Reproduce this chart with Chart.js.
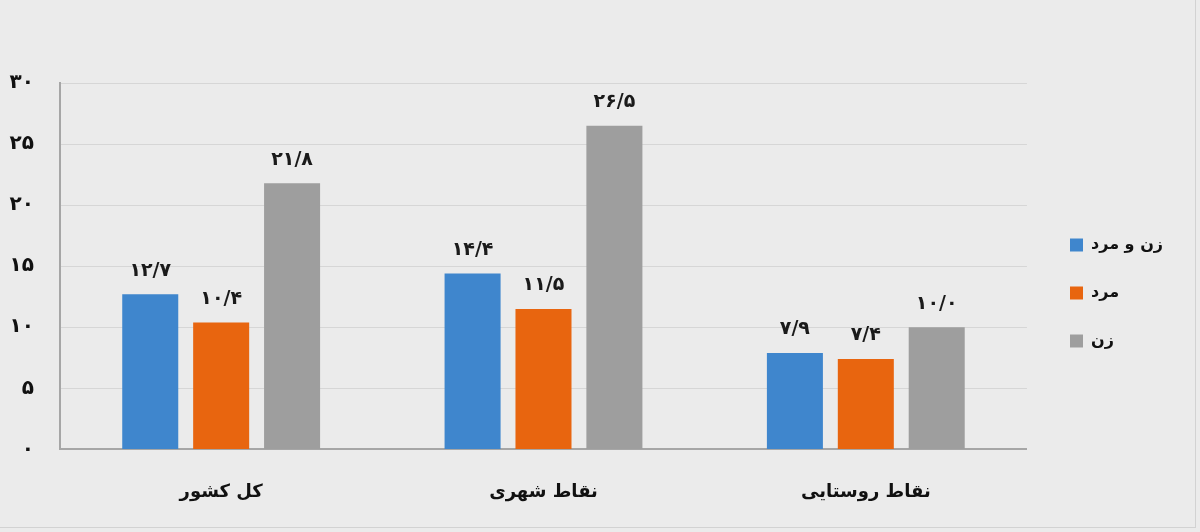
<!DOCTYPE html>
<html lang="fa">
<head>
<meta charset="utf-8">
<script src="https://cdn.jsdelivr.net/npm/chart.js@4/dist/chart.umd.min.js"></script>
<style>
  html, body { margin: 0; padding: 0; background: #ebebeb; }
  .wrap { position: relative; width: 1200px; height: 532px; }
  .wrap::after {
    content: ''; position: absolute; left: 0; top: 0; right: 4px; bottom: 4px;
    border-right: 1px solid #d2d2d2; border-bottom: 1px solid #d2d2d2; pointer-events: none;
  }
</style>
</head>
<body>
<div class="wrap"><canvas id="chart" width="1200" height="532"></canvas></div>
<script>
const categories = ['کل کشور', 'نقاط شهری', 'نقاط روستایی'];
const seriesNames = ['زن و مرد', 'مرد', 'زن'];
const both = [12.7, 14.4, 7.9];
const men = [10.4, 11.5, 7.4];
const women = [21.8, 26.5, 10.0];
const colors = ['#3f86cd', '#e8650f', '#9e9e9e'];

const FONT = '"DejaVu Sans", sans-serif';
const faDigits = '۰۱۲۳۴۵۶۷۸۹';
const toFa = s => String(s).replace(/[0-9]/g, d => faDigits[d]);

const valueLabels = {
  id: 'valueLabels',
  afterDatasetsDraw(chart) {
    const ctx = chart.ctx;
    ctx.save();
    ctx.font = 'bold 19px ' + FONT;
    ctx.fillStyle = '#1a1a1a';
    ctx.textAlign = 'center';
    ctx.textBaseline = 'bottom';
    chart.data.datasets.forEach((ds, i) => {
      chart.getDatasetMeta(i).data.forEach((bar, j) => {
        const txt = toFa(ds.data[j].toFixed(1).replace('.', '/'));
        ctx.fillText(txt, bar.x, bar.y - 14);
      });
    });
    ctx.restore();
  }
};

// nudge the legend block a bit right and up
const legendNudge = {
  id: 'legendNudge',
  afterLayout(chart) {
    const lg = chart.legend;
    if (!lg) return;
    lg.left += 11;
    lg.bottom -= 32;
  }
};

new Chart(document.getElementById('chart'), {
  type: 'bar',
  data: {
    labels: categories,
    datasets: [
      { label: seriesNames[0], data: both, backgroundColor: colors[0] },
      { label: seriesNames[1], data: men, backgroundColor: colors[1] },
      { label: seriesNames[2], data: women, backgroundColor: colors[2] },
    ],
  },
  options: {
    responsive: false,
    animation: false,
    layout: { padding: { top: 83, left: 8, right: 38, bottom: -3 } },
    datasets: { bar: { categoryPercentage: 0.66, barPercentage: 0.79 } },
    plugins: {
      legend: {
        position: 'right',
        labels: {
          boxWidth: 13, boxHeight: 13, padding: 32,
          color: '#111', font: { family: FONT, size: 16, weight: 'bold' },
        },
      },
      tooltip: { enabled: false },
    },
    scales: {
      x: {
        grid: { display: false, drawTicks: false },
        border: { color: '#a6a6a6', width: 2 },
        ticks: { padding: 32, color: '#111', font: { family: FONT, size: 18, weight: 'bold' } },
      },
      y: {
        min: 0, max: 30,
        afterFit: scale => { scale.width = 52; },
        ticks: {
          stepSize: 5, padding: 26, color: '#111',
          font: { family: FONT, size: 20, weight: 'bold' },
          callback: v => toFa(v),
        },
        grid: { color: '#d6d6d6', drawTicks: false },
        border: { color: '#a6a6a6', width: 2 },
      },
    },
  },
  plugins: [valueLabels, legendNudge],
});
</script>
</body>
</html>
